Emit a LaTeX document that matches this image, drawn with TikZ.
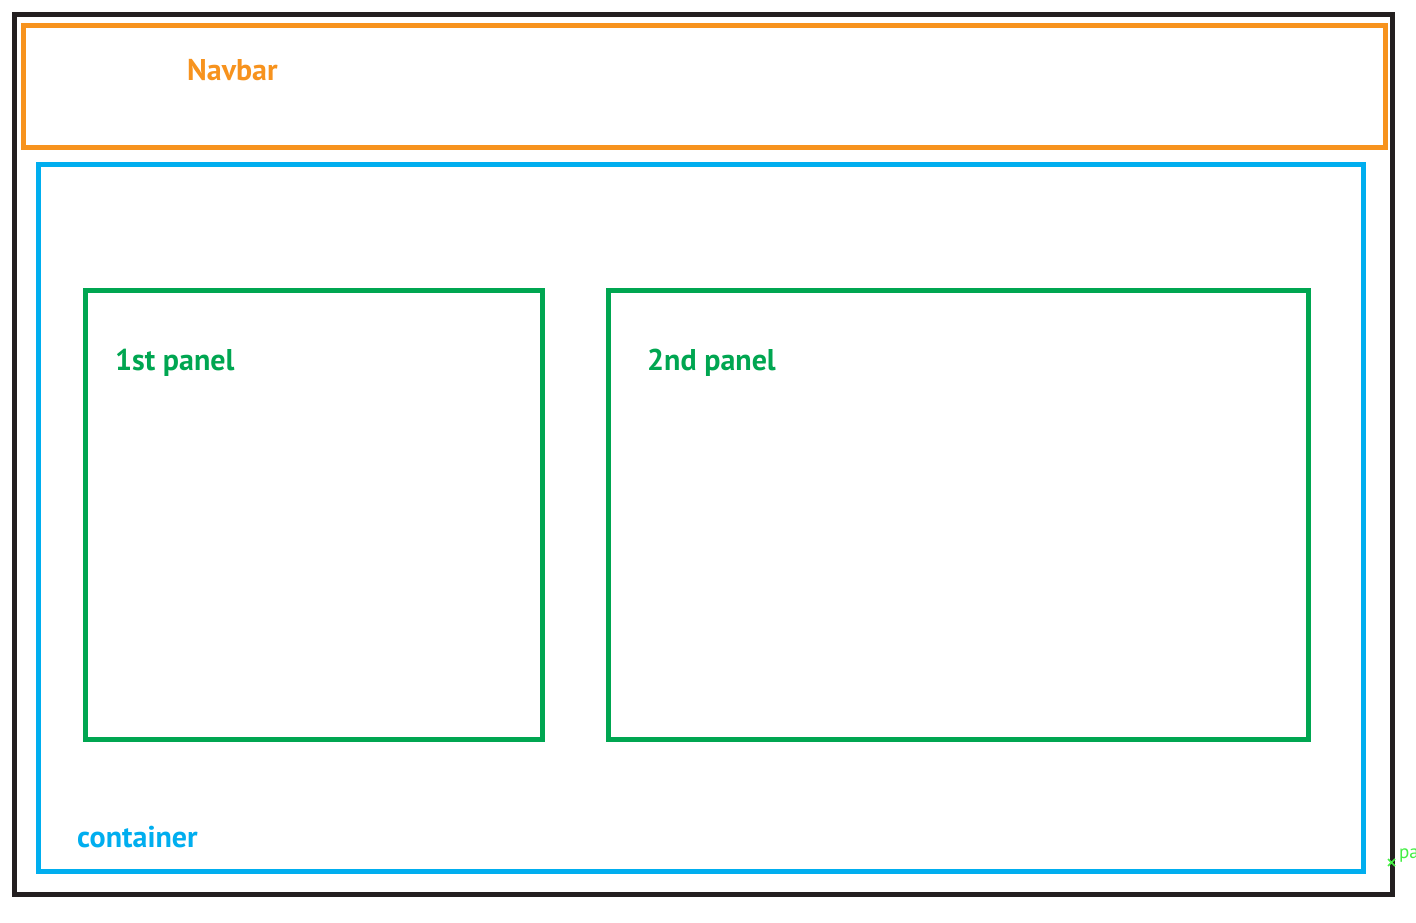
\documentclass[tikz,border=0pt]{standalone}
\usepackage{fontspec}
\setmainfont{PT Sans}
\definecolor{cblack}{HTML}{231F20}
\definecolor{corange}{HTML}{F7931E}
\definecolor{cblue}{HTML}{00AEEF}
\definecolor{cgreen}{HTML}{00A651}
\definecolor{clime}{HTML}{44EE44}
\begin{document}
\begin{tikzpicture}[x=1pt,y=-1pt,
  frame/.style={line width=5pt},
  lbl/.style={anchor=base west,inner sep=0pt,font=\fontsize{30}{32}\selectfont\bfseries}]
\useasboundingbox (0,0) rectangle (1416,922);
\fill[white] (0,0) rectangle (1416,922);
\draw[frame,cblack] (14.5,14.5) rectangle (1392,894.5);
\draw[frame,corange] (23,25.5) rectangle (1385,147.5);
\draw[frame,cblue] (38,164.5) rectangle (1363,871);
\draw[frame,cgreen] (85.5,290) rectangle (542,739);
\draw[frame,cgreen] (608,290) rectangle (1308,739);
\node[lbl,text=corange] (navbar) at (187,80) {Navbar};
\node[lbl,text=cgreen] (p1) at (115,370) {1st panel};
\node[lbl,text=cgreen] (p2) at (647,370) {2nd panel};
\node[lbl,text=cblue] (cont) at (77,847) {container};
\draw[clime,line width=1.5pt] (1388,859) -- (1395,866) (1388,866) -- (1395,859);
\node[anchor=base west,inner sep=0pt,text=clime,font=\fontsize{19}{21}\selectfont] (pa) at (1399,858) {pa};
\end{tikzpicture}
\end{document}
